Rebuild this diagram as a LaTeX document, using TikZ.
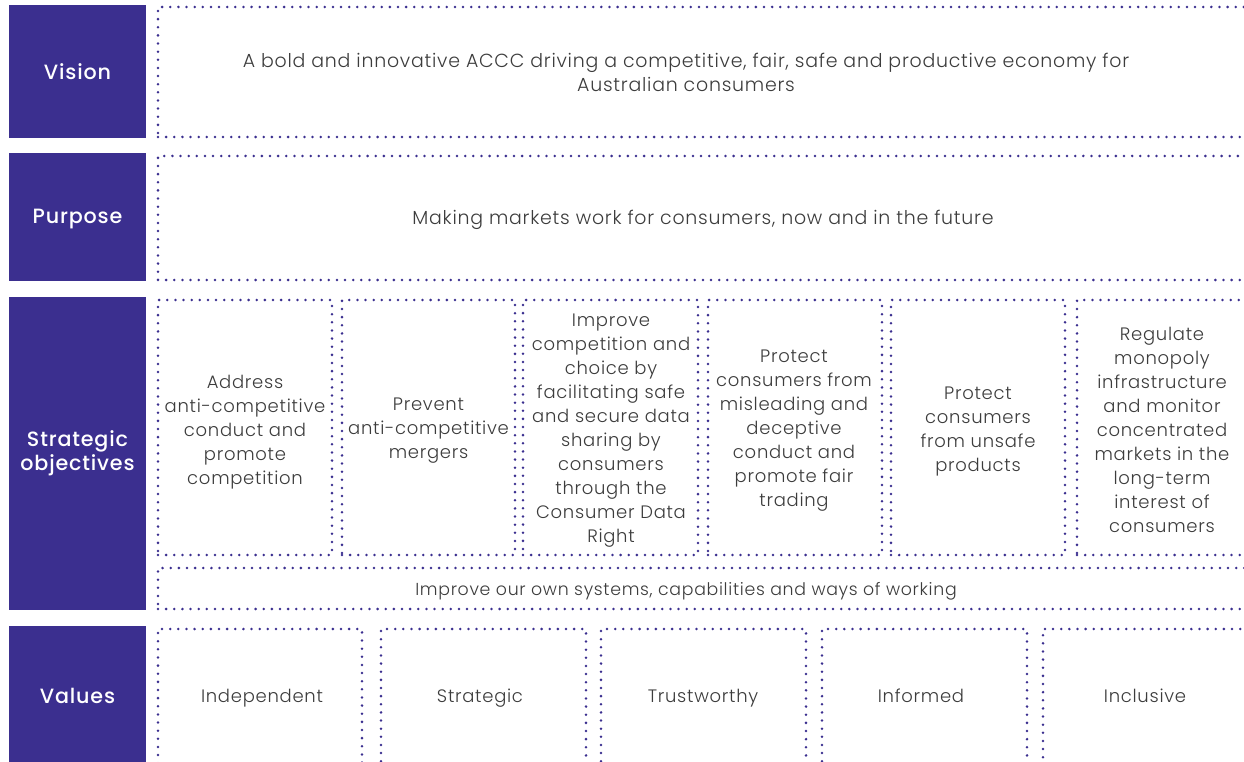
\documentclass[tikz,border=0pt]{standalone}
\usepackage{fontspec}
\setmainfont{Poppins}[UprightFont=* Light, BoldFont=* Medium, LetterSpace=4]
\definecolor{acccpurple}{RGB}{59,47,143}
\definecolor{bodygrey}{RGB}{60,60,60}
\newcommand{\px}{0.75pt}
\tikzset{
  headbox/.style={fill=acccpurple, text=white, inner sep=0, outer sep=0, align=center,
    font=\bfseries\fontsize{15.5}{18}\selectfont},
  dotbox/.style={draw=acccpurple, line width=2.1pt, line cap=round,
    dash pattern=on 0pt off 6.1pt, inner sep=0, outer sep=0},
  bodytext/.style={text=bodygrey, align=center, font=\fontsize{13.5}{18}\selectfont},
  valuetext/.style={bodytext, text height=1.6ex, text depth=0.4ex}
}

\begin{document}
\begin{tikzpicture}[x=0.75pt, y=-0.75pt]
	\useasboundingbox (0,0) rectangle (1244,762);
	\clip (0,0) rectangle (1244,762);
	% headings
	\node[headbox, minimum width=137*\px, minimum height=133*\px] (vision) at (77.5,71.5) {};
	\node[headbox] (visionlabel) at (77.5,72) {Vision};
	\node[headbox, minimum width=137*\px, minimum height=128*\px] (purpose) at (77.5,217) {};
	\node[headbox] (purposelabel) at (77.5,219) {Purpose};
	\node[headbox, minimum width=137*\px, minimum height=313*\px] (objectives) at (77.5,453.5) {};
	\node[headbox] (objectiveslabel) at (77.5,453) {Strategic\\objectives};
	\node[headbox, minimum width=137*\px, minimum height=144*\px] (values) at (77.5,698) {};
	\node[headbox] (valueslabel) at (77.5,696) {Values};
	% vision and purpose
	\node[dotbox, minimum width=1092*\px, minimum height=130*\px] (visionbox) at (704,72) {};
	\node[bodytext, font=\fontsize{14.2}{18}\selectfont] (visiontext) at (686,72)
		{A bold and innovative ACCC driving a competitive, fair, safe and productive economy for\\Australian consumers};
	\node[dotbox, minimum width=1092*\px, minimum height=124*\px] (purposebox) at (704,218) {};
	\node[bodytext, font=\fontsize{14.2}{18}\selectfont] (purposetext) at (703,220)
		{Making markets work for consumers, now and in the future};
	% strategic objectives
	\node[dotbox, minimum width=174*\px, minimum height=255*\px] (obj1) at (245,427.5) {};
	\node[dotbox, minimum width=173*\px, minimum height=255*\px] (obj2) at (428.5,427.5) {};
	\node[dotbox, minimum width=175*\px, minimum height=255*\px] (obj3) at (610.5,427.5) {};
	\node[dotbox, minimum width=174*\px, minimum height=255*\px] (obj4) at (795,427.5) {};
	\node[dotbox, minimum width=174*\px, minimum height=255*\px] (obj5) at (978,427.5) {};
	\node[dotbox, minimum width=173*\px, minimum height=255*\px] (obj6) at (1163.5,427.5) {};
	\node[bodytext] (obj1text) at (245,432)
		{Address\\anti-competitive\\conduct and\\promote\\competition};
	\node[bodytext] (obj2text) at (428.5,431)
		{Prevent\\anti-competitive\\mergers};
	\node[bodytext] (obj3text) at (611,431)
		{Improve\\competition and\\choice by\\facilitating safe\\and secure data\\sharing by\\consumers\\through the\\Consumer Data\\Right};
	\node[bodytext] (obj4text) at (794,431)
		{Protect\\consumers from\\misleading and\\deceptive\\conduct and\\promote fair\\trading};
	\node[bodytext] (obj5text) at (978,431.5)
		{Protect\\consumers\\from unsafe\\products};
	\node[bodytext] (obj6text) at (1162,430)
		{Regulate\\monopoly\\infrastructure\\and monitor\\concentrated\\markets in the\\long-term\\interest of\\consumers};
	\node[dotbox, minimum width=1092*\px, minimum height=41*\px] (ownbox) at (704,588.5) {};
	\node[bodytext, font=\fontsize{13}{18}\selectfont] (owntext) at (686,591)
		{Improve our own systems, capabilities and ways of working};
	% values
	\node[dotbox, minimum width=204*\px, minimum height=141*\px] (val1) at (260,699.5) {};
	\node[dotbox, minimum width=205*\px, minimum height=141*\px] (val2) at (483.5,699.5) {};
	\node[dotbox, minimum width=205*\px, minimum height=141*\px] (val3) at (703.5,699.5) {};
	\node[dotbox, minimum width=205*\px, minimum height=141*\px] (val4) at (924.5,699.5) {};
	\node[dotbox, minimum width=207*\px, minimum height=141*\px] (val5) at (1146.5,699.5) {};
	\node[valuetext] (val1text) at (262,698) {Independent};
	\node[valuetext] (val2text) at (480,698) {Strategic};
	\node[valuetext] (val3text) at (703,698) {Trustworthy};
	\node[valuetext] (val4text) at (921,698) {Informed};
	\node[valuetext] (val5text) at (1145,698) {Inclusive};
\end{tikzpicture}
\end{document}
